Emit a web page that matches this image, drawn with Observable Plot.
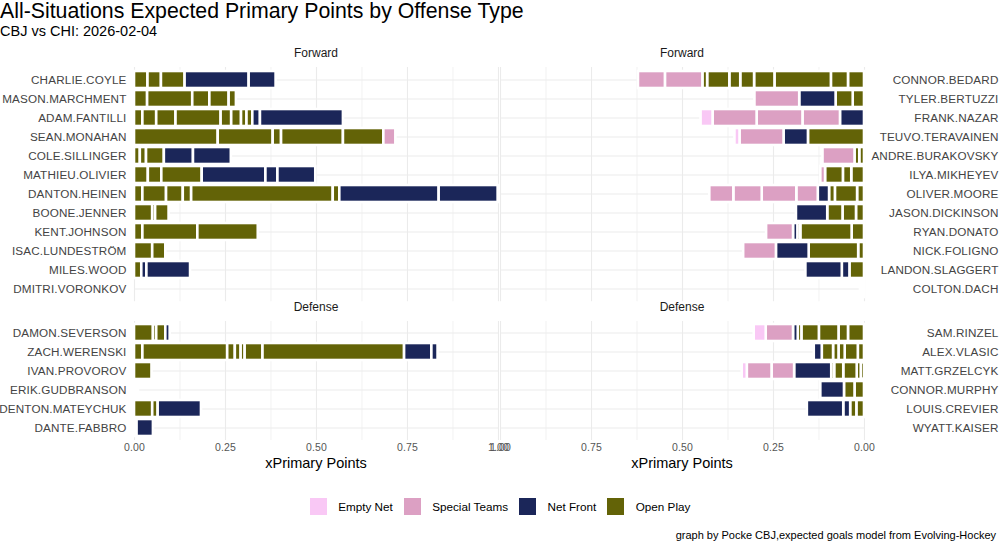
<!DOCTYPE html>
<html>
<head>
<meta charset="utf-8">
<script src="https://cdn.jsdelivr.net/npm/d3@7"></script>
<script src="https://cdn.jsdelivr.net/npm/@observablehq/plot@0.6"></script>
<style>
  html, body { margin: 0; padding: 0; background: #fff; }
  body { width: 1000px; height: 542px; overflow: hidden; font-family: "Liberation Sans", Arial, sans-serif; }
  #root { position: relative; width: 1000px; height: 542px; }
  .abs { position: absolute; white-space: nowrap; }
  .title { left: 0; top: 0.5px; font-size: 21.3px; line-height: 21.3px; color: #000; }
  .subtitle { left: 0; top: 23.5px; font-size: 14.5px; line-height: 14.5px; color: #000; }
  .strip { font-size: 12px; line-height: 12px; color: #1a1a1a; transform: translateX(-50%); }
  .axtitle { font-size: 14.5px; line-height: 14.5px; color: #000; transform: translateX(-50%); top: 456px; }
  .caption { right: 4px; top: 530px; font-size: 11px; line-height: 11px; color: #000; }
  .plotbox { position: absolute; }
  .plotbox svg { overflow: visible; }
  #legend { position: absolute; left: 0; width: 1000px; top: 498px; display: flex; justify-content: center; align-items: center; font-size: 11.7px; color: #000; }
  #legend .item { display: flex; align-items: center; margin: 0 5.5px; }
  #legend .sw { width: 17px; height: 17px; margin-right: 11.5px; }
</style>
</head>
<body>
<div id="root">
  <div class="abs title">All-Situations Expected Primary Points by Offense Type</div>
  <div class="abs subtitle">CBJ vs CHI: 2026-02-04</div>
  <div class="abs strip" style="left:316px; top:46.5px;">Forward</div>
  <div class="abs strip" style="left:682px; top:46.5px;">Forward</div>
  <div class="abs strip" style="left:316px; top:301px;">Defense</div>
  <div class="abs strip" style="left:682px; top:301px;">Defense</div>
  <div class="abs axtitle" style="left:316px;">xPrimary Points</div>
  <div class="abs axtitle" style="left:682px;">xPrimary Points</div>
  <div id="legend"></div>
  <div class="abs caption">graph by Pocke CBJ,expected goals model from Evolving-Hockey</div>
</div>
<script>
// ---- categories ----
const offenseTypes = ["Empty Net", "Special Teams", "Net Front", "Open Play"];
const typeColors = ["#f9c8f5", "#dca0c3", "#1b2659", "#636307"];
const typeCodes = {E: "Empty Net", S: "Special Teams", N: "Net Front", O: "Open Play"};

const cbjForwards = ["CHARLIE.COYLE", "MASON.MARCHMENT", "ADAM.FANTILLI", "SEAN.MONAHAN", "COLE.SILLINGER", "MATHIEU.OLIVIER", "DANTON.HEINEN", "BOONE.JENNER", "KENT.JOHNSON", "ISAC.LUNDESTRÖM", "MILES.WOOD", "DMITRI.VORONKOV"];
const cbjDefense = ["DAMON.SEVERSON", "ZACH.WERENSKI", "IVAN.PROVOROV", "ERIK.GUDBRANSON", "DENTON.MATEYCHUK", "DANTE.FABBRO"];
const chiForwards = ["CONNOR.BEDARD", "TYLER.BERTUZZI", "FRANK.NAZAR", "TEUVO.TERAVAINEN", "ANDRE.BURAKOVSKY", "ILYA.MIKHEYEV", "OLIVER.MOORE", "JASON.DICKINSON", "RYAN.DONATO", "NICK.FOLIGNO", "LANDON.SLAGGERT", "COLTON.DACH"];
const chiDefense = ["SAM.RINZEL", "ALEX.VLASIC", "MATT.GRZELCYK", "CONNOR.MURPHY", "LOUIS.CREVIER", "WYATT.KAISER"];

const xTicks = [0, 0.25, 0.5, 0.75, 1];
const xMinorTicks = [0.125, 0.375, 0.625, 0.875];

// ---- shot values: [player, type code, xPrimary points], stacked outward from 0 ----
const cbjShots = [
  ["CHARLIE.COYLE","O",0.037],["CHARLIE.COYLE","O",0.037],["CHARLIE.COYLE","O",0.065],["CHARLIE.COYLE","N",0.176],["CHARLIE.COYLE","N",0.074],
  ["MASON.MARCHMENT","O",0.036],["MASON.MARCHMENT","O",0.124],["MASON.MARCHMENT","O",0.047],["MASON.MARCHMENT","O",0.053],["MASON.MARCHMENT","O",0.020],
  ["ADAM.FANTILLI","O",0.023],["ADAM.FANTILLI","O",0.038],["ADAM.FANTILLI","O",0.053],["ADAM.FANTILLI","O",0.124],["ADAM.FANTILLI","O",0.029],["ADAM.FANTILLI","O",0.027],["ADAM.FANTILLI","O",0.015],["ADAM.FANTILLI","O",0.016],["ADAM.FANTILLI","N",0.021],["ADAM.FANTILLI","N",0.228],
  ["SEAN.MONAHAN","O",0.230],["SEAN.MONAHAN","O",0.151],["SEAN.MONAHAN","O",0.023],["SEAN.MONAHAN","O",0.170],["SEAN.MONAHAN","O",0.111],["SEAN.MONAHAN","S",0.033],
  ["COLE.SILLINGER","O",0.016],["COLE.SILLINGER","O",0.017],["COLE.SILLINGER","O",0.049],["COLE.SILLINGER","N",0.080],["COLE.SILLINGER","N",0.104],
  ["MATHIEU.OLIVIER","O",0.038],["MATHIEU.OLIVIER","O",0.037],["MATHIEU.OLIVIER","O",0.111],["MATHIEU.OLIVIER","N",0.175],["MATHIEU.OLIVIER","N",0.033],["MATHIEU.OLIVIER","N",0.104],
  ["DANTON.HEINEN","O",0.023],["DANTON.HEINEN","O",0.065],["DANTON.HEINEN","O",0.046],["DANTON.HEINEN","O",0.023],["DANTON.HEINEN","O",0.389],["DANTON.HEINEN","O",0.018],["DANTON.HEINEN","N",0.273],["DANTON.HEINEN","N",0.162],
  ["BOONE.JENNER","O",0.050],["BOONE.JENNER","O",0.008],["BOONE.JENNER","O",0.037],
  ["KENT.JOHNSON","O",0.023],["KENT.JOHNSON","O",0.151],["KENT.JOHNSON","O",0.166],
  ["ISAC.LUNDESTRÖM","O",0.050],["ISAC.LUNDESTRÖM","O",0.036],
  ["MILES.WOOD","O",0.020],["MILES.WOOD","N",0.014],["MILES.WOOD","N",0.120],
  ["DAMON.SEVERSON","O",0.052],["DAMON.SEVERSON","O",0.009],["DAMON.SEVERSON","O",0.025],["DAMON.SEVERSON","N",0.012],
  ["ZACH.WERENSKI","O",0.023],["ZACH.WERENSKI","O",0.233],["ZACH.WERENSKI","O",0.021],["ZACH.WERENSKI","O",0.016],["ZACH.WERENSKI","O",0.011],["ZACH.WERENSKI","O",0.049],["ZACH.WERENSKI","O",0.389],["ZACH.WERENSKI","N",0.075],["ZACH.WERENSKI","N",0.017],
  ["IVAN.PROVOROV","O",0.048],
  ["ERIK.GUDBRANSON","O",0.005],["ERIK.GUDBRANSON","O",0.006],
  ["DENTON.MATEYCHUK","O",0.050],["DENTON.MATEYCHUK","O",0.015],["DENTON.MATEYCHUK","N",0.119],
  ["DANTE.FABBRO","O",0.007],["DANTE.FABBRO","N",0.045]
];

const chiShots = [
  ["CONNOR.BEDARD","O",0.044],["CONNOR.BEDARD","O",0.047],["CONNOR.BEDARD","O",0.155],["CONNOR.BEDARD","O",0.056],["CONNOR.BEDARD","O",0.038],["CONNOR.BEDARD","O",0.030],["CONNOR.BEDARD","O",0.061],["CONNOR.BEDARD","O",0.013],["CONNOR.BEDARD","S",0.103],["CONNOR.BEDARD","S",0.074],
  ["TYLER.BERTUZZI","O",0.031],["TYLER.BERTUZZI","O",0.047],["TYLER.BERTUZZI","N",0.100],["TYLER.BERTUZZI","S",0.123],
  ["FRANK.NAZAR","N",0.066],["FRANK.NAZAR","S",0.103],["FRANK.NAZAR","S",0.126],["FRANK.NAZAR","S",0.121],["FRANK.NAZAR","E",0.033],
  ["TEUVO.TERAVAINEN","O",0.154],["TEUVO.TERAVAINEN","N",0.067],["TEUVO.TERAVAINEN","S",0.121],["TEUVO.TERAVAINEN","E",0.014],
  ["ANDRE.BURAKOVSKY","O",0.013],["ANDRE.BURAKOVSKY","O",0.013],["ANDRE.BURAKOVSKY","S",0.088],
  ["ILYA.MIKHEYEV","O",0.035],["ILYA.MIKHEYEV","O",0.023],["ILYA.MIKHEYEV","O",0.049],["ILYA.MIKHEYEV","S",0.013],
  ["OLIVER.MOORE","O",0.019],["OLIVER.MOORE","O",0.061],["OLIVER.MOORE","O",0.016],["OLIVER.MOORE","N",0.031],["OLIVER.MOORE","S",0.059],["OLIVER.MOORE","S",0.095],["OLIVER.MOORE","S",0.078],["OLIVER.MOORE","S",0.066],
  ["JASON.DICKINSON","O",0.022],["JASON.DICKINSON","O",0.037],["JASON.DICKINSON","O",0.042],["JASON.DICKINSON","N",0.086],
  ["RYAN.DONATO","O",0.034],["RYAN.DONATO","O",0.141],["RYAN.DONATO","O",0.008],["RYAN.DONATO","N",0.012],["RYAN.DONATO","S",0.074],
  ["NICK.FOLIGNO","O",0.016],["NICK.FOLIGNO","O",0.136],["NICK.FOLIGNO","N",0.090],["NICK.FOLIGNO","S",0.090],
  ["LANDON.SLAGGERT","O",0.040],["LANDON.SLAGGERT","N",0.021],["LANDON.SLAGGERT","N",0.100],
  ["COLTON.DACH","O",0.005],["COLTON.DACH","O",0.006],
  ["SAM.RINZEL","O",0.044],["SAM.RINZEL","O",0.026],["SAM.RINZEL","O",0.054],["SAM.RINZEL","O",0.048],["SAM.RINZEL","O",0.010],["SAM.RINZEL","N",0.013],["SAM.RINZEL","S",0.075],["SAM.RINZEL","E",0.033],
  ["ALEX.VLASIC","O",0.017],["ALEX.VLASIC","O",0.036],["ALEX.VLASIC","O",0.017],["ALEX.VLASIC","O",0.015],["ALEX.VLASIC","O",0.031],["ALEX.VLASIC","N",0.022],
  ["MATT.GRZELCYK","O",0.009],["MATT.GRZELCYK","O",0.011],["MATT.GRZELCYK","O",0.037],["MATT.GRZELCYK","O",0.025],["MATT.GRZELCYK","O",0.008],["MATT.GRZELCYK","N",0.102],["MATT.GRZELCYK","S",0.062],["MATT.GRZELCYK","S",0.068],["MATT.GRZELCYK","E",0.014],
  ["CONNOR.MURPHY","O",0.026],["CONNOR.MURPHY","O",0.029],["CONNOR.MURPHY","N",0.065],
  ["LOUIS.CREVIER","O",0.021],["LOUIS.CREVIER","O",0.017],["LOUIS.CREVIER","N",0.019],["LOUIS.CREVIER","N",0.100]
];

// ---- build tables ----
const toRows = (arr) => arr.map(([player, code, value]) => ({player, type: typeCodes[code], value}));
const cbjRows = toRows(cbjShots);
const chiRows = toRows(chiShots);

const UNIT = 19.2;
const FONT = "'Liberation Sans', Arial, sans-serif";

function panel({players, rows, side, showX}) {
  const left = side === "left";
  const panelH = (players.length + 0.2) * UNIT;
  const data = rows.filter(d => players.includes(d.player));
  const marks = [
    Plot.gridX(xMinorTicks, {stroke: "#ebebeb", strokeOpacity: 1, strokeWidth: 0.7}),
    Plot.gridX(xTicks, {stroke: "#ebebeb", strokeOpacity: 1, strokeWidth: 1.1}),
    Plot.gridY({stroke: "#ebebeb", strokeOpacity: 1, strokeWidth: 1.1}),
    Plot.rectX(data, Plot.stackX({y: "player", x: "value", fill: "type", stroke: "white", strokeWidth: 2.6})),
    left
      ? Plot.axisY({anchor: "left", tickSize: 0, tickPadding: 8, label: null, fill: "#444", fontSize: 11.7})
      : Plot.axisY({anchor: "right", tickSize: 0, tickPadding: 134, textAnchor: "end", label: null, fill: "#444", fontSize: 11.7})
  ];
  if (showX) {
    marks.push(Plot.axisX(xTicks, {anchor: "bottom", tickSize: 0, tickPadding: 3, tickFormat: d3.format(".2f"), label: null, fill: "#555", fontSize: 10.5}));
  }
  return Plot.plot({
    width: left ? 498 : 500,
    height: panelH + (showX ? 30 : 0),
    marginLeft: left ? 134 : 0,
    marginRight: left ? 0 : 136,
    marginTop: 0,
    marginBottom: showX ? 30 : 0,
    style: {fontFamily: FONT, fontSize: "11.7px", overflow: "visible", background: "transparent", letterSpacing: "0.15px"},
    x: {domain: [0, 1], reverse: !left, axis: null},
    y: {domain: players, type: "band", paddingInner: 0.1, paddingOuter: 0.15, axis: null},
    color: {domain: offenseTypes, range: typeColors},
    marks
  });
}

function place(node, x, y) {
  const box = document.createElement("div");
  box.className = "plotbox";
  box.style.left = x + "px";
  box.style.top = y + "px";
  box.appendChild(node);
  document.getElementById("root").appendChild(box);
}

place(panel({players: cbjForwards, rows: cbjRows, side: "left", showX: false}), 0, 66.5);
place(panel({players: chiForwards, rows: chiRows, side: "right", showX: false}), 500, 66.5);
place(panel({players: cbjDefense, rows: cbjRows, side: "left", showX: true}), 0, 320.5);
place(panel({players: chiDefense, rows: chiRows, side: "right", showX: true}), 500, 320.5);

// ---- legend ----
const legend = document.getElementById("legend");
offenseTypes.forEach((t, i) => {
  const item = document.createElement("div");
  item.className = "item";
  const sw = document.createElement("div");
  sw.className = "sw";
  sw.style.background = typeColors[i];
  const lab = document.createElement("span");
  lab.textContent = t;
  item.appendChild(sw);
  item.appendChild(lab);
  legend.appendChild(item);
});
</script>
</body>
</html>
